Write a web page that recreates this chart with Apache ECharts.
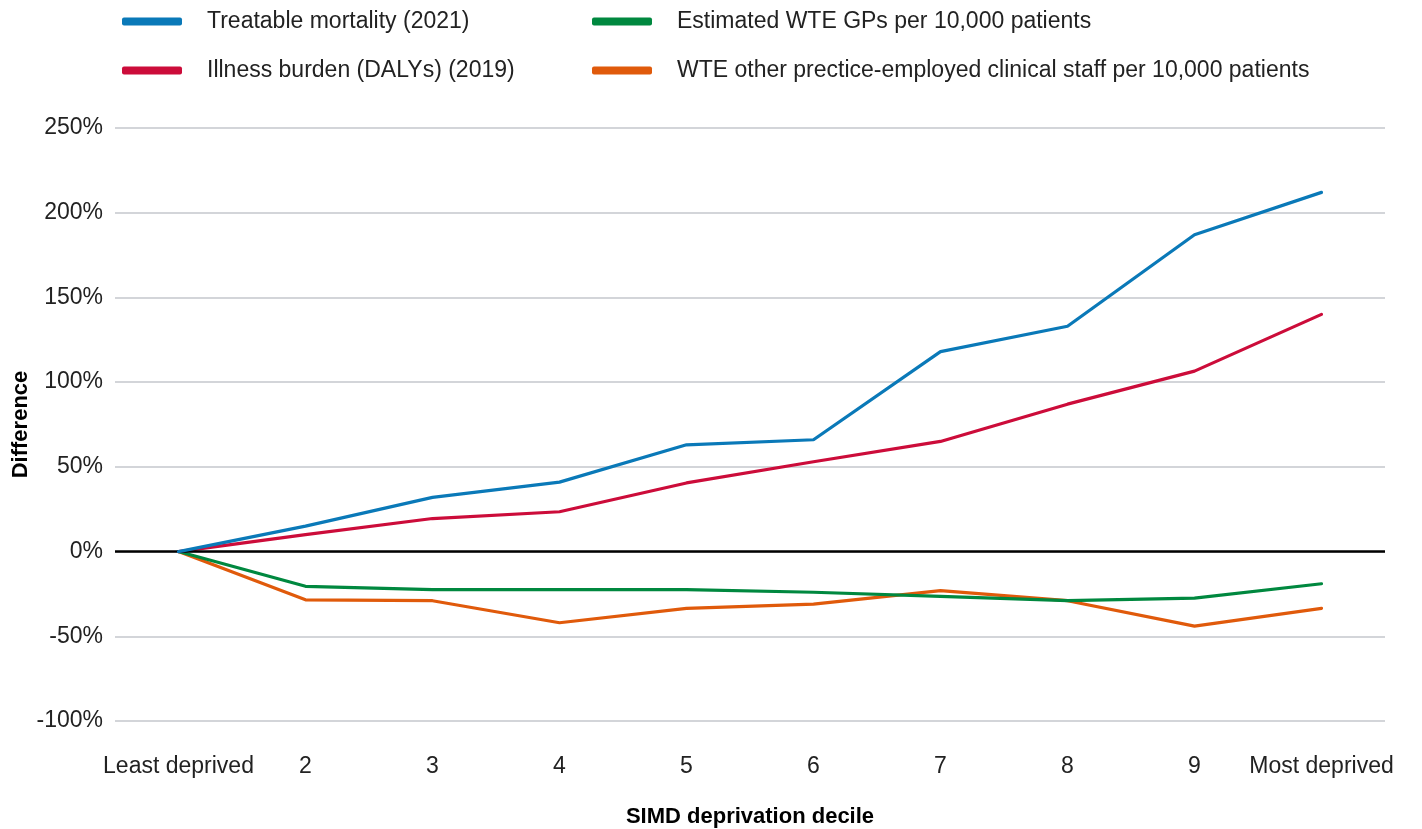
<!DOCTYPE html>
<html>
<head>
<meta charset="utf-8">
<script src="https://cdn.jsdelivr.net/npm/echarts@6/dist/echarts.min.js"></script>
<style>
  html, body { margin: 0; padding: 0; background: #fff; }
  #chart { width: 1422px; height: 829px; }
</style>
</head>
<body>
<div id="chart"></div>
<script>
const deciles = ['Least deprived', '2', '3', '4', '5', '6', '7', '8', '9', 'Most deprived']
const treatableMortality = [0, 15, 32, 41, 63, 66, 118, 133, 187, 212]
const illnessBurden = [0, 10, 19.5, 23.5, 40.5, 53, 65, 87, 106.5, 140]
const gpsPer10k = [0, -20.5, -22.5, -22.5, -22.5, -24, -26.5, -29, -27.5, -19]
const otherStaffPer10k = [0, -28.5, -29, -42, -33.5, -31, -23, -29, -44, -33.5]
const yTicks = { min: -100, max: 250, interval: 50 }

const font = '"Liberation Sans", Arial, sans-serif'
const textColor = '#222'

const chart = echarts.init(document.getElementById('chart'))

const lineSeries = (name, data, color) => ({
  name,
  type: 'line',
  data,
  showSymbol: false,
  symbol: 'none',
  lineStyle: { width: 3.2, color, cap: 'round' },
  itemStyle: { color }
})

const legendBase = {
  orient: 'vertical',
  top: 5,
  itemWidth: 60,
  itemHeight: 8,
  itemGap: 26,
  icon: 'roundRect',
  textStyle: { fontFamily: font, fontSize: 23, lineHeight: 20, color: textColor, padding: [0, 0, 0, 20] },
  selectedMode: false
}

chart.setOption({
  animation: false,
  legend: [
    { ...legendBase, left: 117, data: ['Treatable mortality (2021)', 'Illness burden (DALYs) (2019)'] },
    { ...legendBase, left: 587, data: ['Estimated WTE GPs per 10,000 patients', 'WTE other prectice-employed clinical staff per 10,000 patients'] }
  ],
  grid: { left: 115, right: 37, top: 128, bottom: 108, containLabel: false, outerBoundsMode: 'none' },
  xAxis: {
    type: 'category',
    data: deciles,
    boundaryGap: true,
    name: 'SIMD deprivation decile',
    nameLocation: 'middle',
    nameGap: 85,
    nameTextStyle: { fontFamily: font, fontSize: 22, fontWeight: 'bold', color: '#000' },
    axisLine: { show: false, onZero: false },
    axisTick: { show: false },
    axisLabel: { fontFamily: font, fontSize: 23, color: textColor, margin: 34, interval: 0, hideOverlap: false }
  },
  yAxis: {
    type: 'value',
    ...yTicks,
    name: 'Difference',
    nameLocation: 'middle',
    nameGap: 83,
    nameRotate: 90,
    nameMoveOverlap: false,
    nameTextStyle: { fontFamily: font, fontSize: 22, fontWeight: 'bold', color: '#000' },
    axisLine: { show: false },
    axisTick: { show: false },
    axisLabel: { fontFamily: font, fontSize: 23, color: textColor, margin: 12, formatter: '{value}%' },
    splitLine: { lineStyle: { color: '#c4c7cd', width: 1.5 } }
  },
  series: [
    {
      ...lineSeries('Treatable mortality (2021)', treatableMortality, '#0a79b8'),
      markLine: {
        silent: true,
        symbol: 'none',
        label: { show: false },
        lineStyle: { color: '#000', width: 2.5, type: 'solid' },
        data: [{ yAxis: 0 }]
      },
      z: 5
    },
    { ...lineSeries('Illness burden (DALYs) (2019)', illnessBurden, '#cc0c3a'), z: 4 },
    { ...lineSeries('Estimated WTE GPs per 10,000 patients', gpsPer10k, '#00883f'), z: 3 },
    { ...lineSeries('WTE other prectice-employed clinical staff per 10,000 patients', otherStaffPer10k, '#e05a0b'), z: 2 }
  ]
})
</script>
</body>
</html>
